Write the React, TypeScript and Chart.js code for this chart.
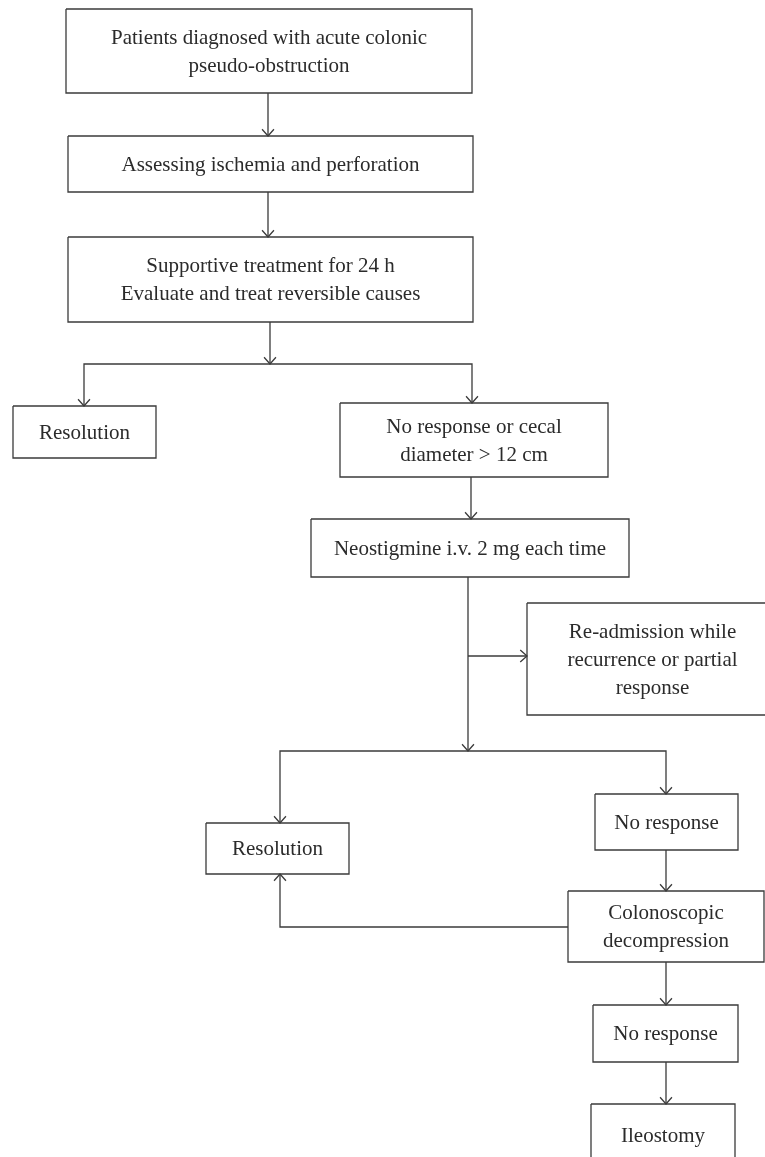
import React, { useEffect, useRef } from "react";
import { Chart, registerables } from "chart.js";

Chart.register(...registerables);

// Flowchart nodes (text lines) and their extents in diagram units
const nodeText: string[][] = [
  ["Patients diagnosed with acute colonic", "pseudo-obstruction"],
  ["Assessing ischemia and perforation"],
  ["Supportive treatment for 24 h", "Evaluate and treat reversible causes"],
  ["Resolution"],
  ["No response or cecal", "diameter > 12 cm"],
  ["Neostigmine i.v. 2 mg each time"],
  ["Re-admission while", "recurrence or partial", "response"],
  ["Resolution"],
  ["No response"],
  ["Colonoscopic", "decompression"],
  ["No response"],
  ["Ileostomy"],
];
const nodeLeft = [66, 68, 68, 13, 340, 311, 527, 206, 595, 568, 593, 591];
const nodeRight = [472, 473, 473, 156, 608, 629, 778, 349, 738, 764, 738, 735];
const nodeTop = [9, 136, 237, 406, 403, 519, 603, 823, 794, 891, 1005, 1104];
const nodeBottom = [93, 192, 322, 458, 477, 577, 715, 874, 850, 962, 1062, 1166];

// Connectors: polylines, arrowhead at the last point
const linkPaths: number[][][] = [
  [[268, 93], [268, 136]],
  [[268, 192], [268, 237]],
  [[270, 322], [270, 364]],
  [[270, 364], [84, 364], [84, 406]],
  [[270, 364], [472, 364], [472, 403]],
  [[471, 477], [471, 519]],
  [[468, 577], [468, 751]],
  [[468, 656], [527, 656]],
  [[468, 751], [280, 751], [280, 823]],
  [[468, 751], [666, 751], [666, 794]],
  [[666, 850], [666, 891]],
  [[568, 927], [280, 927], [280, 874]],
  [[666, 962], [666, 1005]],
  [[666, 1062], [666, 1104]],
];

const LINE = "#3b3b3b";
const TEXT = "#2b2b2b";
const FONT = '21px "Liberation Serif", "DejaVu Serif", serif';

const flowPlugin = {
  id: "flowPlugin",
  afterDatasetsDraw(chart: any) {
    const { ctx, scales } = chart;
    const xs = scales.x;
    const ys = scales.y;
    ctx.save();
    // arrowheads
    ctx.strokeStyle = LINE;
    ctx.lineWidth = 1.3;
    linkPaths.forEach((path) => {
      const n = path.length;
      const tx = xs.getPixelForValue(path[n - 1][0]);
      const ty = ys.getPixelForValue(path[n - 1][1]);
      const px = xs.getPixelForValue(path[n - 2][0]);
      const py = ys.getPixelForValue(path[n - 2][1]);
      const ang = Math.atan2(ty - py, tx - px);
      const len = 9;
      const spread = 0.72;
      ctx.beginPath();
      ctx.moveTo(tx - len * Math.cos(ang - spread), ty - len * Math.sin(ang - spread));
      ctx.lineTo(tx, ty);
      ctx.lineTo(tx - len * Math.cos(ang + spread), ty - len * Math.sin(ang + spread));
      ctx.stroke();
    });
    // labels
    ctx.fillStyle = TEXT;
    ctx.font = FONT;
    ctx.textAlign = "center";
    ctx.textBaseline = "middle";
    const lh = 28;
    nodeText.forEach((lines, i) => {
      const cx = xs.getPixelForValue((nodeLeft[i] + nodeRight[i]) / 2);
      const cy = ys.getPixelForValue((nodeTop[i] + nodeBottom[i]) / 2);
      const start = cy - ((lines.length - 1) * lh) / 2;
      lines.forEach((t, k) => ctx.fillText(t, cx, start + k * lh + 1));
    });
    ctx.restore();
  },
};

export default function App() {
  const ref = useRef<HTMLCanvasElement | null>(null);
  useEffect(() => {
    document.body.style.margin = "0";
    document.body.style.background = "#ffffff";
    const boxSets = nodeText.map((_, i) => ({
      type: "line" as const,
      data: [
        { x: nodeLeft[i], y: nodeTop[i] },
        { x: nodeRight[i], y: nodeTop[i] },
        { x: nodeRight[i], y: nodeBottom[i] },
        { x: nodeLeft[i], y: nodeBottom[i] },
        { x: nodeLeft[i], y: nodeTop[i] },
      ],
      borderColor: LINE,
      borderWidth: 1.3,
      pointRadius: 0,
      fill: false,
      tension: 0,
      clip: false as any,
      borderJoinStyle: "miter" as const,
    }));
    const linkSets = linkPaths.map((p) => ({
      type: "line" as const,
      data: p.map(([x, y]) => ({ x, y })),
      borderColor: LINE,
      borderWidth: 1.3,
      pointRadius: 0,
      fill: false,
      tension: 0,
      clip: false as any,
      borderJoinStyle: "miter" as const,
    }));
    const chart = new Chart(ref.current as HTMLCanvasElement, {
      type: "scatter",
      data: { datasets: [...boxSets, ...linkSets] as any },
      options: {
        animation: false,
        responsive: false,
        maintainAspectRatio: false,
        layout: { padding: 0 },
        plugins: { legend: { display: false }, tooltip: { enabled: false } },
        events: [],
        scales: {
          x: { type: "linear", min: 0, max: 765, display: false },
          y: { type: "linear", min: 0, max: 1157, reverse: true, display: false },
        },
      },
      plugins: [flowPlugin],
    });
    return () => chart.destroy();
  }, []);
  return (
    <div style={{ width: 765, height: 1157, background: "#fff" }}>
      <canvas ref={ref} width={765} height={1157} style={{ display: "block" }} />
    </div>
  );
}
